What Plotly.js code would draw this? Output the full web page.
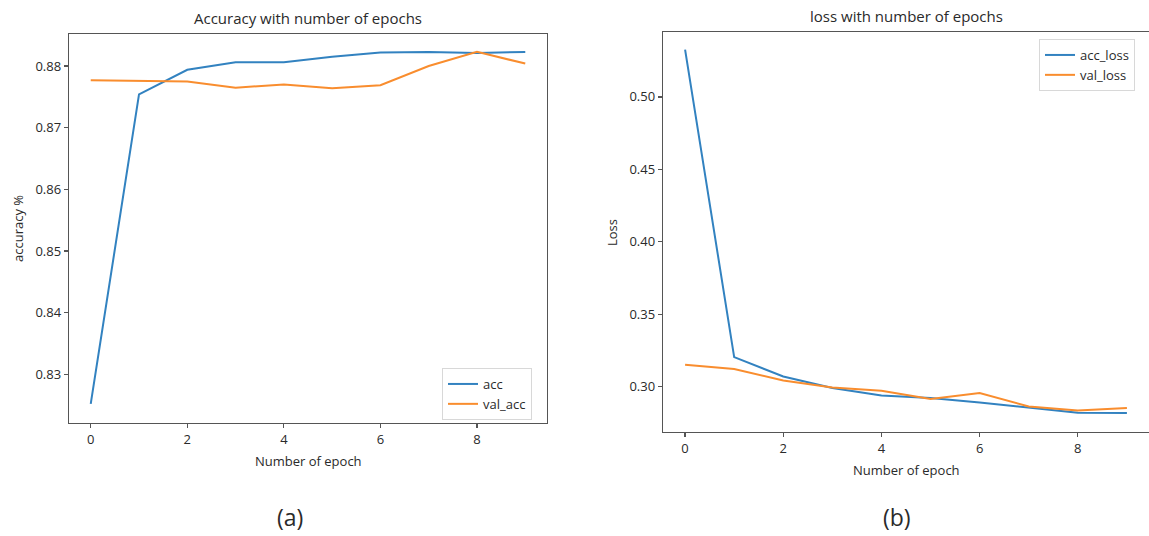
<!DOCTYPE html>
<html><head><meta charset="utf-8">
<script src="https://cdn.plot.ly/plotly-3.0.1.min.js"></script>
<style>html,body{margin:0;padding:0;background:#fff}#chart{width:1149px;height:536px}</style>
</head><body><div id="chart"></div>
<script>
const epochs = [0,1,2,3,4,5,6,7,8,9];
const acc     = [0.8252,0.8754,0.8794,0.8806,0.8806,0.8815,0.8822,0.8823,0.8821,0.8823];
const valAcc  = [0.8777,0.8776,0.8775,0.8765,0.8770,0.8764,0.8769,0.8800,0.8823,0.8804];
const accLoss = [0.5326,0.3205,0.3071,0.2991,0.2940,0.2922,0.2892,0.2857,0.2821,0.2819];
const valLoss = [0.3152,0.3122,0.3043,0.2995,0.2972,0.2915,0.2957,0.2864,0.2837,0.2853];
const xTicks = [0,2,4,6,8];
const accTicks = [0.83,0.84,0.85,0.86,0.87,0.88];
const lossTicks = [0.30,0.35,0.40,0.45,0.50];
const seriesNames = ['acc','val_acc','acc_loss','val_loss'];
const panelTitles = ['Accuracy with number of epochs','loss with number of epochs'];
const panelLabels = ['(a)','(b)'];

const W = 1149, H = 536;
const px = x => x / W, py = y => 1 - y / H;
const BLUE = '#3282c0', ORANGE = '#f98d2e';
const FONT = 'Open Sans, DejaVu Sans, sans-serif';
const TXT = '#2a2a2a', AX = '#555555';

const line = c => ({color: c, width: 2});
const traces = [
  {x: epochs, y: acc, name: seriesNames[0], mode: 'lines', line: line(BLUE), xaxis: 'x', yaxis: 'y', legend: 'legend'},
  {x: epochs, y: valAcc, name: seriesNames[1], mode: 'lines', line: line(ORANGE), xaxis: 'x', yaxis: 'y', legend: 'legend'},
  {x: epochs, y: accLoss, name: seriesNames[2], mode: 'lines', line: line(BLUE), xaxis: 'x2', yaxis: 'y2', legend: 'legend2'},
  {x: epochs, y: valLoss, name: seriesNames[3], mode: 'lines', line: line(ORANGE), xaxis: 'x2', yaxis: 'y2', legend: 'legend2'}
];

const axBase = {
  showline: true, linecolor: AX, linewidth: 1.3, ticks: 'outside', ticklen: 4, tickwidth: 1.2,
  tickcolor: AX, showgrid: false, zeroline: false, tickfont: {family: FONT, size: 13, color: TXT}
};

const L = {l: 69, r: 547, t: 34, b: 423};
const R = {l: 663, r: 1149, t: 32, b: 432};

function ann(text, x, y, size, extra) {
  return Object.assign({text: text, x: px(x), y: py(y), xref: 'paper', yref: 'paper', showarrow: false,
    xanchor: 'center', yanchor: 'middle', font: {family: FONT, size: size, color: TXT}}, extra || {});
}

const layout = {
  width: W, height: H, margin: {l: 0, r: 0, t: 0, b: 0},
  paper_bgcolor: '#fff', plot_bgcolor: '#fff',
  font: {family: FONT, color: TXT},
  xaxis: Object.assign({}, axBase, {domain: [px(L.l), px(L.r)], range: [-0.45, 9.45], tickvals: xTicks, mirror: true, anchor: 'y'}),
  yaxis: Object.assign({}, axBase, {domain: [py(L.b), py(L.t)], range: [0.8221, 0.8852], tickvals: accTicks, tickformat: '.2f', mirror: true, anchor: 'x'}),
  xaxis2: Object.assign({}, axBase, {domain: [px(R.l), 1], range: [-0.45, 9.45], tickvals: xTicks, mirror: true, anchor: 'y2'}),
  yaxis2: Object.assign({}, axBase, {domain: [py(R.b), py(R.t)], range: [0.2688, 0.5448], tickvals: lossTicks, tickformat: '.2f', mirror: false, anchor: 'x2'}),
  legend: {x: px(442), y: py(368), xanchor: 'left', yanchor: 'top', bgcolor: '#fff', bordercolor: '#d8d8d8', borderwidth: 1,
           font: {family: FONT, size: 13, color: TXT}},
  legend2: {x: px(1039), y: py(39), xanchor: 'left', yanchor: 'top', bgcolor: '#fff', bordercolor: '#d8d8d8', borderwidth: 1,
           font: {family: FONT, size: 13, color: TXT}},
  annotations: [
    ann(panelTitles[0], (L.l + L.r) / 2, 18, 15),
    ann(panelTitles[1], (R.l + R.r) / 2, 16, 15),
    ann('Number of epoch', (L.l + L.r) / 2, 461, 13),
    ann('Number of epoch', (R.l + R.r) / 2, 470, 13),
    ann('accuracy %', 18, 229, 13, {textangle: -90}),
    ann('Loss', 612, 233, 13, {textangle: -90}),
    ann(panelLabels[0], 290, 517, 23),
    ann(panelLabels[1], 897, 517, 23)
  ]
};

Plotly.newPlot('chart', traces, layout, {displayModeBar: false, staticPlot: true});
</script>
</body></html>
